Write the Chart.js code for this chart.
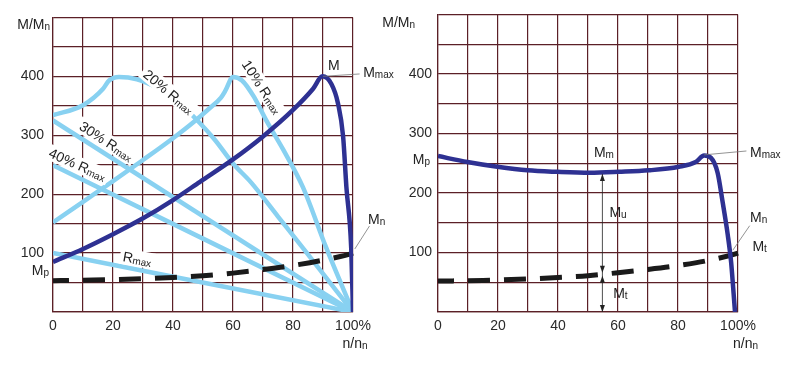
<!DOCTYPE html>
<html>
<head>
<meta charset="utf-8">
<script src="https://cdn.jsdelivr.net/npm/chart.js@4"></script>
<style>
body { margin: 0; background: #fff; }
#wrap { position: relative; width: 800px; height: 366px; }
canvas { position: absolute; top: 0; }
</style>
</head>
<body>
<div id="wrap">
<canvas id="left" width="400" height="366" style="left:0"></canvas>
<canvas id="right" width="420" height="366" style="left:380px"></canvas>
</div>
<script>
// left diagram: torque M/Mn vs speed n/nn for several rotor resistances
var mLx = [0, 10, 20, 30, 40, 49, 60, 70, 80, 86.7, 89.8, 92.8, 95, 96.7, 97.8, 99.4, 100];
var mLy = [85, 107, 132, 159, 190, 221, 259, 298, 343, 379, 400, 387, 354, 298, 212, 109, 0];

var r10x = [0, 10, 20, 30, 40, 47, 52, 56, 57.5, 60, 63, 67, 71, 76.7, 83.3, 91, 100];
var r10y = [152, 187, 222, 258, 295, 323, 345, 364, 376, 399, 393, 365, 326, 276, 212, 110, 0];

var r20x = [0, 10, 16.7, 18.7, 22, 28, 35, 41, 47, 54, 60, 66, 75, 84, 100];
var r20y = [334, 351, 379, 393, 399, 395, 380, 360, 331, 292, 252, 220, 162, 104, 0];

var r30x = [0, 100];
var r30y = [325, 0];
var r40x = [0, 100];
var r40y = [249, 0];
var rmaxX = [0, 100];
var rmaxY = [100, 0];

var tLx = [0, 10, 20, 30, 40, 50, 60, 70, 80, 90, 100, 102];
var tLy = [53, 54, 55, 56.5, 58.5, 61.5, 66, 72, 79, 88, 100, 104];

// right diagram
var mRx = [0, 9.8, 19.8, 29.8, 39.8, 50.6, 60.3, 70.3, 80.3, 85.9, 88.7, 91, 93.2, 94.9, 96.6, 97.7, 98.4, 99];
var mRy = [262, 252, 244, 238, 235.5, 234, 235.5, 238, 244, 252, 263, 259, 234, 184, 129, 84, 40, 0];

var tRx = [0, 15, 30, 40, 50, 60, 70, 80, 90, 100, 103];
var tRy = [52, 53, 55.5, 58, 61, 66, 71.5, 78, 86.5, 99, 105];

var xTicks = [0, 20, 40, 60, 80, 100];
var yTicks = [100, 200, 300, 400];

var darkBlue = '#2e3192';
var lightBlue = '#88d1f1';
var gridCol = '#5b2027';

Chart.defaults.font.family = '"Liberation Sans", Arial, sans-serif';
Chart.defaults.font.size = 14;
Chart.defaults.color = '#2a2a2a';

function pts(xs, ys) {
    return xs.map(function (x, i) { return { x: x, y: ys[i] }; });
}

function curve(xs, ys, color, extra) {
    var ds = {
        data: pts(xs, ys),
        borderColor: color,
        borderWidth: 4.5,
        pointRadius: 0,
        fill: false,
        cubicInterpolationMode: 'monotone'
    };
    for (var k in extra) ds[k] = extra[k];
    return ds;
}

function dashed(xs, ys) {
    return curve(xs, ys, '#1a1a1a', { borderWidth: 5, borderDash: [22, 14], borderDashOffset: 6, clip: false });
}

function scales(yWidth, yPad) {
    return {
        x: {
            type: 'linear', min: 0, max: 100,
            afterFit: function (s) { s.height = 54; },
            grid: { color: gridCol, lineWidth: 1.2, drawTicks: false },
            border: { color: gridCol, width: 1.2 },
            ticks: {
                stepSize: 10, autoSkip: false, maxRotation: 0, padding: 6,
                callback: function (v) {
                    if (xTicks.indexOf(v) < 0) return '';
                    return v === 100 ? '100%' : v;
                }
            }
        },
        y: {
            min: 0, max: 500,
            afterFit: function (s) { s.width = yWidth; },
            grid: { color: gridCol, lineWidth: 1.2, drawTicks: false },
            border: { color: gridCol, width: 1.2 },
            ticks: {
                stepSize: 50, padding: yPad,
                callback: function (v) { return yTicks.indexOf(v) >= 0 ? v : ''; }
            }
        }
    };
}

// text with a small subscript part, optional rotation and white box
function txt(ctx, main, sub, x, y, align, angle, bg) {
    ctx.save();
    ctx.translate(x, y);
    if (angle) ctx.rotate(angle * Math.PI / 180);
    ctx.font = '14px "Liberation Sans", Arial, sans-serif';
    var w1 = ctx.measureText(main).width;
    ctx.font = '10px "Liberation Sans", Arial, sans-serif';
    var w2 = sub ? ctx.measureText(sub).width : 0;
    var tot = w1 + w2;
    var sx = align === 'center' ? -tot / 2 : (align === 'right' ? -tot : 0);
    if (bg) {
        ctx.fillStyle = '#fff';
        ctx.fillRect(sx - 3, -8, tot + 6, 16);
    }
    ctx.fillStyle = '#222';
    ctx.textBaseline = 'alphabetic';
    ctx.textAlign = 'left';
    ctx.font = '14px "Liberation Sans", Arial, sans-serif';
    ctx.fillText(main, sx, 5);
    if (sub) {
        ctx.font = '10px "Liberation Sans", Arial, sans-serif';
        ctx.fillText(sub, sx + w1, 6);
    }
    ctx.restore();
}

function lead(ctx, x1, y1, x2, y2) {
    ctx.save();
    ctx.strokeStyle = '#777';
    ctx.lineWidth = 0.8;
    ctx.beginPath();
    ctx.moveTo(x1, y1);
    ctx.lineTo(x2, y2);
    ctx.stroke();
    ctx.restore();
}

function head(ctx, x, y, dir) {
    ctx.beginPath();
    ctx.moveTo(x, y);
    ctx.lineTo(x - 2.5, y - dir * 7);
    ctx.lineTo(x + 2.5, y - dir * 7);
    ctx.closePath();
    ctx.fill();
}

var leftNotes = {
    id: 'leftNotes',
    afterDatasetsDraw: function (chart) {
        var c = chart.ctx, a = chart.chartArea;
        var X = function (v) { return chart.scales.x.getPixelForValue(v); };
        var Y = function (v) { return chart.scales.y.getPixelForValue(v); };
        txt(c, 'M/M', 'n', a.left - 3, Y(488), 'right');
        txt(c, 'M', 'p', a.left - 4, Y(72), 'right');
        txt(c, 'n/n', 'n', X(100) + 2, a.bottom + 31, 'center');
        txt(c, 'M', '', X(93.6), Y(420), 'center');
        lead(c, X(90), Y(400), X(102.2), Y(404));
        txt(c, 'M', 'max', X(103.4), Y(407), 'left');
        lead(c, X(100.6), Y(107), X(105.5), Y(146));
        txt(c, 'M', 'n', X(105), Y(157), 'left');
        txt(c, 'R', 'max', X(28.1), Y(90.5), 'center', 10, true);
        txt(c, '40% R', 'max', X(8.2), Y(250.5), 'center', 24, true);
        txt(c, '30% R', 'max', X(17.8), Y(290), 'center', 33, true);
        txt(c, '20% R', 'max', X(38.6), Y(374), 'center', 40, true);
        txt(c, '10% R', 'max', X(69.7), Y(382), 'center', 57, true);
    }
};

var rightNotes = {
    id: 'rightNotes',
    afterDatasetsDraw: function (chart) {
        var c = chart.ctx, a = chart.chartArea;
        var X = function (v) { return chart.scales.x.getPixelForValue(v); };
        var Y = function (v) { return chart.scales.y.getPixelForValue(v); };
        txt(c, 'M/M', 'n', a.left - 23, Y(488), 'right');
        txt(c, 'M', 'p', a.left - 8, Y(257), 'right');
        txt(c, 'n/n', 'n', X(102.5), a.bottom + 31, 'center');
        // Mu / Mt dimension arrows
        var ax = X(54.8);
        c.save();
        c.strokeStyle = '#222';
        c.fillStyle = '#222';
        c.lineWidth = 0.8;
        c.beginPath();
        c.moveTo(ax, Y(0));
        c.lineTo(ax, Y(232));
        c.stroke();
        head(c, ax, Y(232), -1);
        head(c, ax, Y(66), 1);
        head(c, ax, Y(61), -1);
        head(c, ax, Y(0), 1);
        c.restore();
        txt(c, 'M', 'm', X(55.3), Y(268), 'center');
        txt(c, 'M', 'u', X(60), Y(168), 'center');
        txt(c, 'M', 't', X(60.8), Y(32), 'center');
        lead(c, X(88.7), Y(264), X(102.8), Y(270.5));
        txt(c, 'M', 'max', X(104), Y(269), 'left');
        lead(c, X(98.3), Y(104), X(103.9), Y(145));
        txt(c, 'M', 'n', X(104), Y(159), 'left');
        txt(c, 'M', 't', X(104.8), Y(110.5), 'left');
    }
};

new Chart(document.getElementById('left'), {
    type: 'line',
    data: {
        datasets: [
            curve(mLx, mLy, darkBlue),
            dashed(tLx, tLy),
            curve(r10x, r10y, lightBlue),
            curve(r20x, r20y, lightBlue),
            curve(r30x, r30y, lightBlue),
            curve(r40x, r40y, lightBlue),
            curve(rmaxX, rmaxY, lightBlue)
        ]
    },
    options: {
        responsive: false,
        animation: false,
        layout: { padding: { top: 12, right: 47, left: 0, bottom: 0 } },
        plugins: { legend: { display: false }, tooltip: { enabled: false } },
        scales: scales(53, 9)
    },
    plugins: [leftNotes]
});

new Chart(document.getElementById('right'), {
    type: 'line',
    data: {
        datasets: [
            curve(mRx, mRy, darkBlue),
            dashed(tRx, tRy)
        ]
    },
    options: {
        responsive: false,
        animation: false,
        layout: { padding: { top: 12, right: 62, left: 0, bottom: 0 } },
        plugins: { legend: { display: false }, tooltip: { enabled: false } },
        scales: scales(58, 6)
    },
    plugins: [rightNotes]
});
</script>
</body>
</html>
